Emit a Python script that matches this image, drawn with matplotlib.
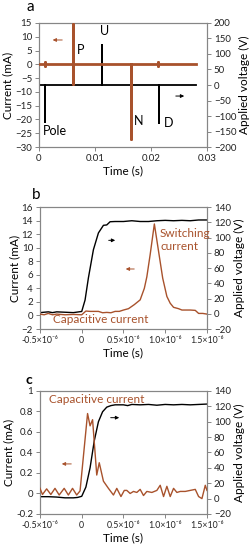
import matplotlib
matplotlib.use("Agg")
import matplotlib.pyplot as plt

plt.rcParams["font.family"] = ["Lato", "DejaVu Sans"]

BROWN = "#a8522c"
GREY = "#868686"

# ---- panel a: PUND sequence (time in s) ----
t_a_current = [0.0, 0.001, 0.001, 0.001, 0.001, 0.006, 0.006, 0.006, 0.006,
               0.0164, 0.0164, 0.0164, 0.0213, 0.0213, 0.0213, 0.0213, 0.028]
i_a_current = [0.0, 0.0, -0.7, 0.7, 0.0, 0.0, 14.5, -7.3, 0.0,
               0.0, -27.0, 0.0, 0.0, 0.7, -0.7, 0.0, 0.0]
t_a_voltage = [0.0, 0.001, 0.001, 0.001, 0.006, 0.006, 0.006, 0.0113, 0.0113,
               0.0113, 0.0164, 0.0164, 0.0164, 0.0214, 0.0214, 0.0214, 0.028]
v_a_voltage = [0, 0, -120, 0, 0, 128, 0, 0, 128,
               0, 0, -118, 0, 0, -122, 0, 0]

# ---- panel b: switching pulse (time in 1e-6 s) ----
t_b_current = [-0.5, -0.45, -0.4, -0.35, -0.3, -0.2, -0.1, 0.0, 0.05, 0.1, 0.2,
               0.25, 0.3, 0.35, 0.4, 0.45, 0.5, 0.56, 0.63, 0.7, 0.75, 0.78,
               0.82, 0.87, 0.92, 0.97, 1.02, 1.06, 1.1, 1.16, 1.2, 1.3, 1.36,
               1.4, 1.45, 1.5]
i_b_current = [0.2, 0.1, 0.3, 0.1, 0.2, 0.1, 0.15, 0.1, 0.65, 0.6, 0.6,
               0.4, 0.45, 0.4, 0.6, 0.6, 0.8, 1.0, 1.6, 2.3, 4.0, 5.7,
               9.0, 13.5, 9.5, 5.5, 2.8, 1.8, 1.2, 1.0, 0.8, 0.8, 0.75,
               0.3, 0.3, 0.2]
t_b_voltage = [-0.5, -0.4, -0.35, -0.3, -0.2, -0.1, 0.0, 0.04, 0.08, 0.14, 0.2,
               0.26, 0.3, 0.34, 0.4, 0.5, 0.6, 0.7, 0.8, 0.9, 1.0, 1.1, 1.2,
               1.3, 1.4, 1.5]
v_b_voltage = [1.5, 2.5, 1.5, 2.5, 2, 1.5, 3, 18, 47, 84, 106,
               116, 116.5, 120.7, 121, 121, 122, 121, 121, 122, 122.5, 122, 122.5,
               122, 123, 123]

# ---- panel c: non-switching pulse (time in 1e-6 s) ----
t_c_current = [-0.5, -0.47, -0.42, -0.37, -0.32, -0.27, -0.21, -0.16, -0.11,
               -0.06, -0.02, 0.07, 0.10, 0.13, 0.18, 0.21, 0.26, 0.32, 0.38,
               0.42, 0.47, 0.51, 0.54, 0.58, 0.62, 0.66, 0.70, 0.74, 0.78,
               0.84, 0.90, 0.94, 0.98, 1.02, 1.06, 1.10, 1.14, 1.18, 1.24,
               1.30, 1.36, 1.40, 1.44, 1.48, 1.50]
i_c_current = [0.05, -0.01, 0.045, -0.01, 0.05, -0.015, 0.05, -0.015, 0.05,
               -0.015, 0.025, 0.78, 0.66, 0.72, 0.18, 0.30, 0.12, 0.05, -0.015,
               0.05, -0.03, 0.03, 0.03, 0.0, 0.02, 0.01, 0.04, -0.02, 0.02,
               0.01, 0.03, 0.08, -0.03, 0.07, -0.03, 0.05, 0.01, 0.02, 0.02,
               0.03, 0.04, -0.03, -0.05, 0.08, 0.03]
t_c_voltage = [-0.5, -0.4, -0.3, -0.2, -0.1, -0.05, 0.0, 0.05, 0.1, 0.15, 0.2,
               0.25, 0.3, 0.35, 0.4, 0.5, 0.55, 0.6, 0.7, 0.8, 0.9, 1.0, 1.1,
               1.2, 1.3, 1.4, 1.5]
v_c_voltage = [2.5, 2.5, 2, 1, 1, 1.5, 3, 15, 40, 75, 100,
               113, 119, 121, 122, 122, 121, 122.5, 122, 122.5, 121.5, 122.5, 122,
               122.5, 122, 122.5, 123]

us_ticks = [-0.5, 0.0, 0.5, 1.0, 1.5]
us_labels = ["-0.5×10⁻⁶", "0", "0.5×10⁻⁶", "1.0×10⁻⁶", "1.5×10⁻⁶"]


def style_axes(ax, ax2):
    for a in (ax, ax2):
        for side in a.spines.values():
            side.set_color(GREY)
            side.set_linewidth(0.8)
        a.tick_params(colors=GREY, labelcolor="#222222", labelsize=7, length=3, width=0.7, pad=2)
    ax.set_xlabel("Time (s)", fontsize=8.5, labelpad=2)
    ax.set_ylabel("Current (mA)", fontsize=8.5, labelpad=1)
    ax2.set_ylabel("Applied voltage (V)", fontsize=8.5, labelpad=2)


def arrow(ax, x0, x1, y, color):
    ax.annotate("", xy=(x1, y), xytext=(x0, y), xycoords="axes fraction",
                arrowprops=dict(arrowstyle="-|>", color=color, lw=0.7, mutation_scale=5))


fig = plt.figure(figsize=(2.53, 5.5), dpi=100)

# panel a
ax = fig.add_axes([0.154, 0.7327, 0.664, 0.2255])
ax2 = ax.twinx()
ax.plot(t_a_current, i_a_current, color=BROWN, lw=2.0, zorder=3)
ax2.plot(t_a_voltage, v_a_voltage, color="black", lw=1.3)
ax.set_zorder(ax2.get_zorder() + 1)
ax.patch.set_visible(False)
ax.set_xlim(0, 0.03)
ax.set_ylim(-30, 15)
ax.set_yticks(range(-30, 16, 5))
ax.set_xticks([0, 0.01, 0.02, 0.03])
ax.set_xticklabels(["0", "0.01", "0.02", "0.03"])
ax2.set_ylim(-200, 200)
ax2.set_yticks(range(-200, 201, 50))
style_axes(ax, ax2)
arrow(ax, 0.155, 0.065, 0.863, BROWN)
arrow(ax, 0.798, 0.881, 0.411, "black")
for label, x, y in [("P", 0.224, 0.782), ("U", 0.363, 0.935), ("Pole", 0.022, 0.131),
                    ("N", 0.565, 0.21), ("D", 0.744, 0.194)]:
    ax.text(x, y, label, transform=ax.transAxes, fontsize=9, va="center", ha="left")
fig.text(0.119, 0.987, "a", fontsize=11, ha="center", va="center")

# panel b
ax = fig.add_axes([0.158, 0.4018, 0.660, 0.2218])
ax2 = ax.twinx()
ax.plot(t_b_current, i_b_current, color=BROWN, lw=1.0, zorder=3)
ax2.plot(t_b_voltage, v_b_voltage, color="black", lw=1.0)
ax.set_zorder(ax2.get_zorder() + 1)
ax.patch.set_visible(False)
ax.set_xlim(-0.5, 1.5)
ax.set_ylim(-2, 16)
ax.set_yticks(range(-2, 17, 2))
ax.set_xticks(us_ticks)
ax.set_xticklabels(us_labels, fontsize=6.3)
ax2.set_ylim(-20, 140)
ax2.set_yticks(range(-20, 141, 20))
style_axes(ax, ax2)
ax.tick_params(axis="x", labelsize=6.3)
ax.text(0.719, 0.727, "Switching\ncurrent", transform=ax.transAxes, fontsize=8.5,
        color=BROWN, va="center", ha="left", linespacing=1.25)
ax.text(0.078, 0.082, "Capacitive current", transform=ax.transAxes, fontsize=8.5,
        color=BROWN, va="center", ha="left")
arrow(ax, 0.395, 0.467, 0.727, "black")
arrow(ax, 0.581, 0.497, 0.492, BROWN)
fig.text(0.142, 0.645, "b", fontsize=11, ha="center", va="center")

# panel c
ax = fig.add_axes([0.158, 0.0655, 0.660, 0.2236])
ax2 = ax.twinx()
ax.plot(t_c_current, i_c_current, color=BROWN, lw=1.0, zorder=3)
ax2.plot(t_c_voltage, v_c_voltage, color="black", lw=1.0)
ax.set_zorder(ax2.get_zorder() + 1)
ax.patch.set_visible(False)
ax.set_xlim(-0.5, 1.5)
ax.set_ylim(-0.2, 1.0)
ax.set_yticks([-0.2, 0, 0.2, 0.4, 0.6, 0.8, 1.0])
ax.set_yticklabels(["-0.2", "0", "0.2", "0.4", "0.6", "0.8", "1"])
ax.set_xticks(us_ticks)
ax.set_xticklabels(us_labels)
ax2.set_ylim(-20, 140)
ax2.set_yticks(range(-20, 141, 20))
style_axes(ax, ax2)
ax.tick_params(axis="x", labelsize=6.3)
ax.text(0.054, 0.927, "Capacitive current", transform=ax.transAxes, fontsize=8.5,
        color=BROWN, va="center", ha="left")
arrow(ax, 0.407, 0.491, 0.783, "black")
arrow(ax, 0.204, 0.114, 0.407, BROWN)
fig.text(0.115, 0.309, "c", fontsize=10, fontweight="bold", ha="center", va="center")

fig.savefig("out.png", dpi=100)
